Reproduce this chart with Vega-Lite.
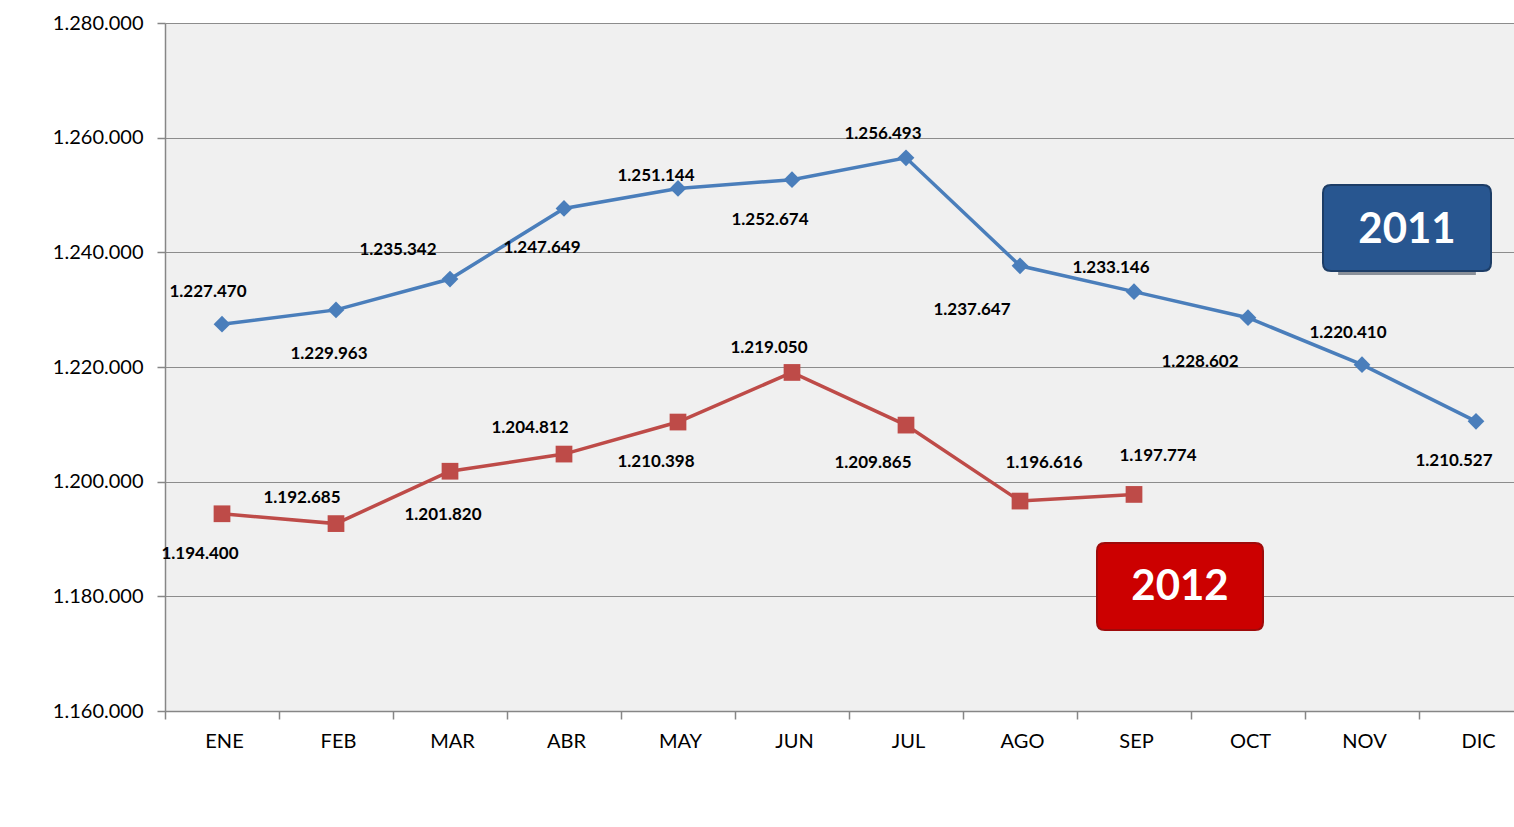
{
  "$schema": "https://vega.github.io/schema/vega-lite/v6.json",
  "autosize": {"type": "none"},
  "padding": {"left": 165, "top": 23, "right": 0, "bottom": 116},
  "width": 1349,
  "height": 688,
  "background": "white",
  "config": {
    "locale": {"number": {"decimal": ",", "thousands": ".", "grouping": [3], "currency": ["", " €"]}},
    "view": {"fill": "#f0f0f0", "stroke": null},
    "font": "Lato"
  },
  "datasets": {
    "main": [
      {"month": "ENE", "series": "2011", "value": 1227470},
      {"month": "FEB", "series": "2011", "value": 1229963},
      {"month": "MAR", "series": "2011", "value": 1235342},
      {"month": "ABR", "series": "2011", "value": 1247649},
      {"month": "MAY", "series": "2011", "value": 1251144},
      {"month": "JUN", "series": "2011", "value": 1252674},
      {"month": "JUL", "series": "2011", "value": 1256493},
      {"month": "AGO", "series": "2011", "value": 1237647},
      {"month": "SEP", "series": "2011", "value": 1233146},
      {"month": "OCT", "series": "2011", "value": 1228602},
      {"month": "NOV", "series": "2011", "value": 1220410},
      {"month": "DIC", "series": "2011", "value": 1210527},
      {"month": "ENE", "series": "2012", "value": 1194400},
      {"month": "FEB", "series": "2012", "value": 1192685},
      {"month": "MAR", "series": "2012", "value": 1201820},
      {"month": "ABR", "series": "2012", "value": 1204812},
      {"month": "MAY", "series": "2012", "value": 1210398},
      {"month": "JUN", "series": "2012", "value": 1219050},
      {"month": "JUL", "series": "2012", "value": 1209865},
      {"month": "AGO", "series": "2012", "value": 1196616},
      {"month": "SEP", "series": "2012", "value": 1197774}
    ],
    "boxes": [
      {"label": "2011", "month": "NOV", "value": 1244250},
      {"label": "2012", "month": "SEP", "value": 1181700}
    ]
  },
  "encoding": {
    "x": {
      "field": "month", "type": "ordinal",
      "scale": {"domain": ["ENE","FEB","MAR","ABR","MAY","JUN","JUL","AGO","SEP","OCT","NOV","DIC"], "range": [0, 1368], "paddingInner": 0, "paddingOuter": 0},
      "axis": {"title": null, "labelAngle": 0, "labelFont": "Lato", "labelFontSize": 20, "labelColor": "#000000", "labelPadding": 12, "labelOffset": 2, "tickSize": 8, "tickColor": "#868686", "domainColor": "#868686", "domainWidth": 1.5, "tickWidth": 1.5, "tickBand": "extent", "grid": false}
    },
    "y": {
      "field": "value", "type": "quantitative",
      "scale": {"domain": [1160000, 1280000], "nice": false, "zero": false},
      "axis": {"title": null, "values": [1160000, 1180000, 1200000, 1220000, 1240000, 1260000, 1280000], "format": ",.0f", "labelFont": "Lato", "labelFontSize": 20, "labelColor": "#000000", "labelPadding": 14, "labelFlush": false, "tickSize": 8, "tickColor": "#868686", "domainColor": "#868686", "domainWidth": 1.5, "tickWidth": 1.5, "grid": true, "gridColor": "#8c8c8c", "gridWidth": 1}
    }
  },
  "layer": [
    {
      "data": {"name": "main"},
      "mark": {"type": "line", "strokeWidth": 3.5},
      "encoding": {
        "color": {"field": "series", "type": "nominal", "scale": {"domain": ["2011", "2012"], "range": ["#4a7ebb", "#be4b48"]}, "legend": null}
      }
    },
    {
      "data": {"name": "main"},
      "mark": {"type": "point", "filled": true, "opacity": 1, "size": 280},
      "encoding": {
        "color": {"field": "series", "type": "nominal", "scale": {"domain": ["2011", "2012"], "range": ["#4a7ebb", "#be4b48"]}, "legend": null},
        "shape": {"field": "series", "type": "nominal", "scale": {"domain": ["2011", "2012"], "range": ["diamond", "square"]}, "legend": null}
      }
    },
    {
      "data": {"name": "main"},
      "transform": [{"filter": "(datum.series === '2011' && indexof(['ENE','NOV'], datum.month) >= 0)"}],
      "mark": {"type": "text", "font": "Lato", "fontWeight": "bold", "fontSize": 17, "color": "#000000", "dx": -14, "dy": -32},
      "encoding": {"text": {"field": "value", "type": "quantitative", "format": ",.0f"}}
    },
    {
      "data": {"name": "main"},
      "transform": [{"filter": "(datum.series === '2011' && datum.month === 'MAR')"}],
      "mark": {"type": "text", "font": "Lato", "fontWeight": "bold", "fontSize": 17, "color": "#000000", "dx": -52, "dy": -29},
      "encoding": {"text": {"field": "value", "type": "quantitative", "format": ",.0f"}}
    },
    {
      "data": {"name": "main"},
      "transform": [{"filter": "(datum.series === '2011' && datum.month === 'MAY')"}],
      "mark": {"type": "text", "font": "Lato", "fontWeight": "bold", "fontSize": 17, "color": "#000000", "dx": -22, "dy": -12},
      "encoding": {"text": {"field": "value", "type": "quantitative", "format": ",.0f"}}
    },
    {
      "data": {"name": "main"},
      "transform": [{"filter": "(datum.series === '2011' && indexof(['JUL','SEP'], datum.month) >= 0) || (datum.series === '2012' && datum.month === 'JUN')"}],
      "mark": {"type": "text", "font": "Lato", "fontWeight": "bold", "fontSize": 17, "color": "#000000", "dx": -23, "dy": -24},
      "encoding": {"text": {"field": "value", "type": "quantitative", "format": ",.0f"}}
    },
    {
      "data": {"name": "main"},
      "transform": [{"filter": "(datum.series === '2012' && indexof(['FEB','ABR'], datum.month) >= 0)"}],
      "mark": {"type": "text", "font": "Lato", "fontWeight": "bold", "fontSize": 17, "color": "#000000", "dx": -34, "dy": -26},
      "encoding": {"text": {"field": "value", "type": "quantitative", "format": ",.0f"}}
    },
    {
      "data": {"name": "main"},
      "transform": [{"filter": "(datum.series === '2012' && indexof(['AGO','SEP'], datum.month) >= 0)"}],
      "mark": {"type": "text", "font": "Lato", "fontWeight": "bold", "fontSize": 17, "color": "#000000", "dx": 24, "dy": -38},
      "encoding": {"text": {"field": "value", "type": "quantitative", "format": ",.0f"}}
    },
    {
      "data": {"name": "main"},
      "transform": [{"filter": "(datum.series === '2011' && datum.month === 'FEB') || (datum.series === '2012' && datum.month === 'MAR')"}],
      "mark": {"type": "text", "font": "Lato", "fontWeight": "bold", "fontSize": 17, "color": "#000000", "dx": -7, "dy": 44},
      "encoding": {"text": {"field": "value", "type": "quantitative", "format": ",.0f"}}
    },
    {
      "data": {"name": "main"},
      "transform": [{"filter": "(datum.series === '2011' && indexof(['ABR','JUN','DIC'], datum.month) >= 0) || (datum.series === '2012' && indexof(['ENE','MAY'], datum.month) >= 0)"}],
      "mark": {"type": "text", "font": "Lato", "fontWeight": "bold", "fontSize": 17, "color": "#000000", "dx": -22, "dy": 40},
      "encoding": {"text": {"field": "value", "type": "quantitative", "format": ",.0f"}}
    },
    {
      "data": {"name": "main"},
      "transform": [{"filter": "(datum.series === '2011' && indexof(['AGO','OCT'], datum.month) >= 0)"}],
      "mark": {"type": "text", "font": "Lato", "fontWeight": "bold", "fontSize": 17, "color": "#000000", "dx": -48, "dy": 44},
      "encoding": {"text": {"field": "value", "type": "quantitative", "format": ",.0f"}}
    },
    {
      "data": {"name": "main"},
      "transform": [{"filter": "(datum.series === '2012' && datum.month === 'JUL')"}],
      "mark": {"type": "text", "font": "Lato", "fontWeight": "bold", "fontSize": 17, "color": "#000000", "dx": -33, "dy": 38},
      "encoding": {"text": {"field": "value", "type": "quantitative", "format": ",.0f"}}
    },
    {
      "data": {"name": "boxes"},
      "transform": [{"filter": "datum.label === '2011'"}],
      "mark": {"type": "point", "filled": true, "opacity": 1, "size": 28224, "xOffset": 45, "yOffset": 4, "color": "#8a9099",
        "shape": "M-0.82,-0.512 L0.82,-0.512 L0.82,0.512 L-0.82,0.512 Z"},
      "encoding": {}
    },
    {
      "data": {"name": "boxes"},
      "transform": [{"filter": "datum.label === '2011'"}],
      "mark": {"type": "point", "filled": true, "opacity": 1, "size": 28224, "xOffset": 45, "fill": "#285690", "stroke": "#1d3d66", "strokeWidth": 2, "strokeOpacity": 1,
        "shape": "M-0.905,-0.512 L0.905,-0.512 Q1,-0.512 1,-0.417 L1,0.417 Q1,0.512 0.905,0.512 L-0.905,0.512 Q-1,0.512 -1,0.417 L-1,-0.417 Q-1,-0.512 -0.905,-0.512 Z"},
      "encoding": {}
    },
    {
      "data": {"name": "boxes"},
      "transform": [{"filter": "datum.label === '2012'"}],
      "mark": {"type": "point", "filled": true, "opacity": 1, "size": 27556, "xOffset": 46, "yOffset": 0, "fill": "#cc0000", "stroke": "#9e0a0a", "strokeWidth": 2, "strokeOpacity": 1,
        "shape": "M-0.905,-0.524 L0.905,-0.524 Q1,-0.524 1,-0.429 L1,0.429 Q1,0.524 0.905,0.524 L-0.905,0.524 Q-1,0.524 -1,0.429 L-1,-0.429 Q-1,-0.524 -0.905,-0.524 Z"},
      "encoding": {}
    },
    {
      "data": {"name": "boxes"},
      "transform": [{"filter": "datum.label === '2011'"}],
      "mark": {"type": "text", "font": "Lato", "fontWeight": "bold", "fontSize": 42, "color": "#ffffff", "dx": 45, "dy": 2},
      "encoding": {"text": {"field": "label", "type": "nominal"}}
    },
    {
      "data": {"name": "boxes"},
      "transform": [{"filter": "datum.label === '2012'"}],
      "mark": {"type": "text", "font": "Lato", "fontWeight": "bold", "fontSize": 42, "color": "#ffffff", "dx": 46, "dy": 0},
      "encoding": {"text": {"field": "label", "type": "nominal"}}
    }
  ]
}
